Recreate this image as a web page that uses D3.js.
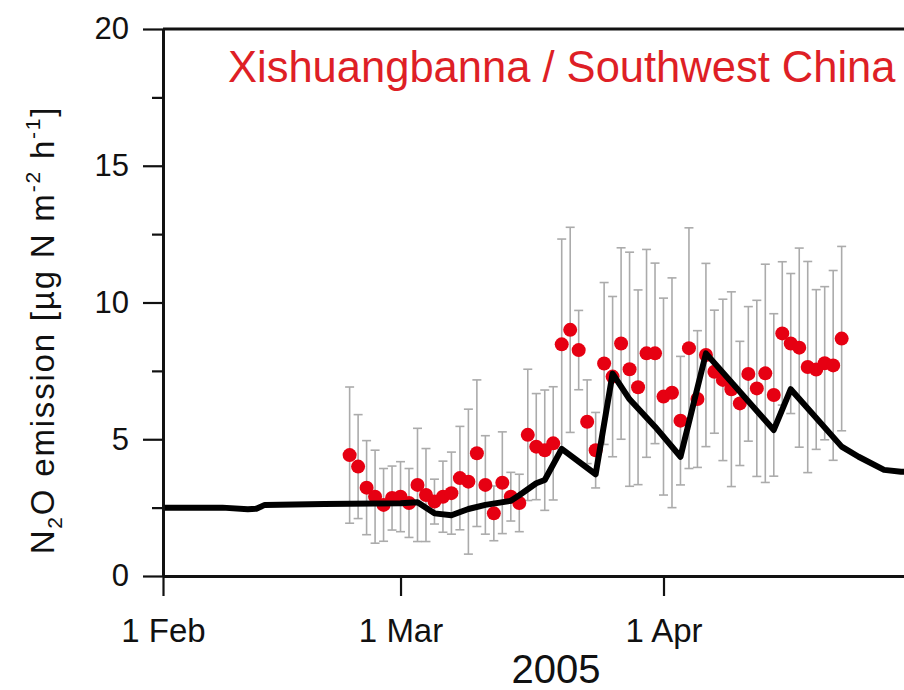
<!DOCTYPE html>
<html>
<head>
<meta charset="utf-8">
<script src="https://cdn.jsdelivr.net/npm/d3@7"></script>
<style>
body{margin:0;background:#fff;}
svg{display:block;font-family:"Liberation Sans",Arial,sans-serif;}
</style>
</head>
<body>
<svg id="chart" width="904" height="690"></svg>
<script>
// measured daily N2O flux, 23 Feb .. 22 Apr 2005 (mean and SD)
const obsFirst = "2005-02-23";
const obsLast = "2005-04-22";
const obsValues = [4.42,4.0,3.23,2.9,2.6,2.85,2.9,2.67,3.33,2.96,2.72,2.9,3.03,3.58,3.45,4.49,3.33,2.29,3.41,2.9,
	2.67,5.16,4.73,4.6,4.85,8.47,9.0,8.26,5.64,4.6,7.77,7.29,8.5,7.56,6.9,8.14,8.14,6.56,6.7,5.68,
	8.33,6.47,8.08,7.47,7.17,6.83,6.31,7.39,6.86,7.41,6.62,8.87,8.5,8.35,7.64,7.55,7.78,7.7,8.68];
const obsSD = [2.49,1.9,1.72,1.7,1.33,1.17,1.28,1.26,2.07,1.7,0.82,1.3,1.5,1.89,2.65,2.68,1.8,1.0,1.86,0.89,
	1.05,2.4,1.94,2.2,2.07,3.85,3.75,1.45,1.53,1.38,2.96,2.93,3.5,4.28,3.56,3.8,3.3,3.6,4.2,2.35,
	4.4,2.5,3.35,2.25,2.95,3.56,2.27,2.46,3.22,3.99,2.97,2.62,2.56,3.64,3.86,2.92,2.8,3.47,3.37];

// simulated flux (black line), vertices
const modelDates = ["2005-02-01","2005-02-08","2005-02-11","2005-02-12","2005-02-13","2005-02-20","2005-03-01",
	"2005-03-03","2005-03-05","2005-03-07","2005-03-09","2005-03-11","2005-03-14","2005-03-15","2005-03-17",
	"2005-03-18","2005-03-20","2005-03-24","2005-03-26","2005-03-28","2005-03-31","2005-04-03","2005-04-06",
	"2005-04-14","2005-04-16","2005-04-22","2005-04-24","2005-04-27","2005-04-29","2005-05-01"];
const modelValues = [2.5,2.5,2.44,2.46,2.6,2.63,2.66,2.7,2.29,2.22,2.45,2.6,2.75,2.95,3.39,
	3.51,4.65,3.72,7.4,6.46,5.46,4.36,8.14,5.34,6.83,4.73,4.36,3.88,3.81,3.8];

const yMajor = [0,5,10,15,20];
const yMinor = [2.5,7.5,12.5,17.5];
const xTickDates = ["2005-02-01","2005-03-01","2005-04-01"];
const xTickLabels = ["1 Feb","1 Mar","1 Apr"];

const parse = d3.utcParse("%Y-%m-%d");
const svg = d3.select("#chart");

// plot box: left/bottom axes, right edge cut off by the picture
const x = d3.scaleUtc()
	.domain([parse("2005-02-01"), parse("2005-05-01")])
	.range([163, 918]);
const y = d3.scaleLinear().domain([0,20]).range([576,29]);

const obsDates = d3.utcDay.range(parse(obsFirst), d3.utcDay.offset(parse(obsLast),1));
const obs = obsDates.map((d,i)=>({date:d, v:obsValues[i], sd:obsSD[i]}));
const model = modelDates.map((d,i)=>({date:parse(d), v:modelValues[i]}));

// error bars
const eb = svg.append("g").attr("stroke","#ababab").attr("stroke-width",1.6);
eb.selectAll("line.v").data(obs).enter().append("line")
	.attr("x1",d=>x(d.date)).attr("x2",d=>x(d.date))
	.attr("y1",d=>y(d.v-d.sd)).attr("y2",d=>y(d.v+d.sd));
eb.selectAll("line.t").data(obs).enter().append("line")
	.attr("x1",d=>x(d.date)-4.5).attr("x2",d=>x(d.date)+4.5)
	.attr("y1",d=>y(d.v+d.sd)).attr("y2",d=>y(d.v+d.sd));
eb.selectAll("line.b").data(obs).enter().append("line")
	.attr("x1",d=>x(d.date)-4.5).attr("x2",d=>x(d.date)+4.5)
	.attr("y1",d=>y(d.v-d.sd)).attr("y2",d=>y(d.v-d.sd));

// measured points
svg.append("g").selectAll("circle").data(obs).enter().append("circle")
	.attr("cx",d=>x(d.date)).attr("cy",d=>y(d.v)).attr("r",7)
	.attr("fill","#e60012");

// model line
svg.append("path").datum(model)
	.attr("fill","none").attr("stroke","#000").attr("stroke-width",6)
	.attr("stroke-linejoin","round")
	.attr("d",d3.line().x(d=>x(d.date)).y(d=>y(d.v)));

// axes
const yAxis = svg.append("g").attr("transform","translate(163,0)")
	.call(d3.axisLeft(y).tickValues(yMajor).tickSize(20).tickSizeOuter(0).tickPadding(14));
svg.append("g").attr("transform","translate(163,0)")
	.call(d3.axisLeft(y).tickValues(yMinor).tickSize(11).tickSizeOuter(0).tickFormat(""));
const xAxis = svg.append("g").attr("transform","translate(0,576)")
	.call(d3.axisBottom(x).tickValues(xTickDates.map(parse)).tickSize(20).tickSizeOuter(0)
		.tickPadding(23).tickFormat((d,i)=>xTickLabels[i]));
svg.selectAll("g").attr("font-family",null);
svg.selectAll(".domain").attr("stroke","#111").attr("stroke-width",2.8);
svg.selectAll(".tick line").attr("stroke","#111").attr("stroke-width",2.2);
yAxis.selectAll("text").attr("font-size",31).attr("fill","#111");
xAxis.selectAll("text").attr("font-size",33).attr("fill","#111");

// top frame line
svg.append("line").attr("x1",163).attr("x2",918).attr("y1",y(20)).attr("y2",y(20))
	.attr("stroke","#111").attr("stroke-width",2.8);

// titles
svg.append("text").attr("x",228).attr("y",82).attr("font-size",43.5).attr("fill","#de1f26")
	.text("Xishuangbanna / Southwest China");
svg.append("text").attr("x",556).attr("y",683).attr("text-anchor","middle")
	.attr("font-size",40).attr("fill","#111").text("2005");

const yl = svg.append("text").attr("transform","translate(54,330) rotate(-90)")
	.attr("text-anchor","middle").attr("font-size",33).attr("letter-spacing",1.8).attr("fill","#111");
yl.append("tspan").text("N");
yl.append("tspan").attr("font-size",21).attr("dy",8).text("2");
yl.append("tspan").attr("dy",-8).text("O emission [\u00b5g N m");
yl.append("tspan").attr("font-size",21).attr("dy",-14).text("-2");
yl.append("tspan").attr("dy",14).text(" h");
yl.append("tspan").attr("font-size",21).attr("dy",-14).text("-1");
yl.append("tspan").attr("dy",14).text("]");
</script>
</body>
</html>
